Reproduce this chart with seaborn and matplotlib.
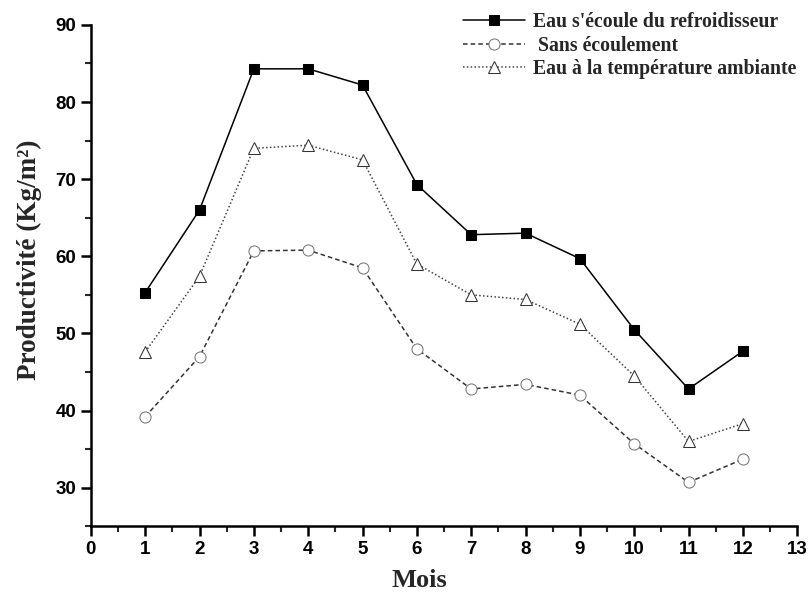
import matplotlib
matplotlib.use("Agg")
import matplotlib.pyplot as plt
import seaborn as sns
import pandas as pd
from matplotlib.ticker import MultipleLocator

months = [1, 2, 3, 4, 5, 6, 7, 8, 9, 10, 11, 12]
refroidisseur = [55.3, 66.0, 84.3, 84.3, 82.2, 69.3, 62.8, 63.0, 59.7, 50.5, 42.8, 47.7]
sans_ecoulement = [39.2, 47.0, 60.7, 60.8, 58.5, 48.0, 42.8, 43.4, 42.0, 35.7, 30.7, 33.7]
ambiante = [47.6, 57.4, 74.0, 74.4, 72.5, 59.0, 55.0, 54.4, 51.2, 44.5, 36.0, 38.3]
labels = ["Eau s'écoule du refroidisseur", " Sans écoulement", "Eau à la température ambiante"]

sns.set_style("ticks")
fig = plt.figure(figsize=(8.11, 5.92), dpi=100)
ax = fig.add_axes([0.112, 0.111, 0.871, 0.847])

specs = [
    (refroidisseur, dict(color="black", linestyle="-", marker="s", markersize=7,
                         markerfacecolor="black", markeredgecolor="black", linewidth=1.1)),
    (sans_ecoulement, dict(color="#333333", linestyle=(0, (3, 2)), marker="o", markersize=8,
                           markerfacecolor="white", markeredgecolor="#777777", linewidth=1.1)),
    (ambiante, dict(color="#444444", linestyle=(0, (1, 1.5)), marker="^", markersize=9,
                    markerfacecolor="white", markeredgecolor="#333333", linewidth=1.1)),
]
for (vals, kw), lab in zip(specs, labels):
    df = pd.DataFrame({"Mois": months, "val": vals})
    sns.lineplot(data=df, x="Mois", y="val", ax=ax, label=lab, **kw)

ax.set_xlim(0, 13)
ax.set_ylim(25, 90)
ax.xaxis.set_major_locator(MultipleLocator(1))
ax.xaxis.set_minor_locator(MultipleLocator(0.5))
ax.yaxis.set_minor_locator(MultipleLocator(5))
ax.set_yticks([30, 40, 50, 60, 70, 80, 90])
for s in ["top", "right"]:
    ax.spines[s].set_visible(False)
for s in ["left", "bottom"]:
    ax.spines[s].set_linewidth(1.8)
    ax.spines[s].set_color("black")
ax.tick_params(which="major", length=7, width=1.8, direction="out", labelsize=13.5, colors="black")
ax.tick_params(which="minor", length=4, width=1.5, direction="out")
for t in ax.get_xticklabels() + ax.get_yticklabels():
    t.set_fontweight("bold")
    t.set_family("Liberation Sans")

ax.set_xlabel("Mois", fontsize=19, fontweight="bold", family="Liberation Serif")
ax.set_ylabel("Productivité (Kg/m²)", fontsize=19.5, fontweight="bold", family="Liberation Serif")
ax.xaxis.set_label_coords((420 - 91) / 708, -0.085)
ax.yaxis.set_label_coords((42 - 91) / 708, (526 - 260) / 501)

ax.get_legend().remove()
handles, labs = ax.get_legend_handles_labels()
fig.legend(handles, labs, loc="upper left", bbox_to_anchor=(463 / 811, 1 - 12 / 592),
           bbox_transform=fig.transFigure, frameon=False,
           prop=dict(family="Liberation Serif", weight="bold", size=14.2),
           handlelength=3.15, labelspacing=0.18, handletextpad=0.4, borderaxespad=0, borderpad=0)

fig.savefig("out.png", dpi=100, facecolor="white")
